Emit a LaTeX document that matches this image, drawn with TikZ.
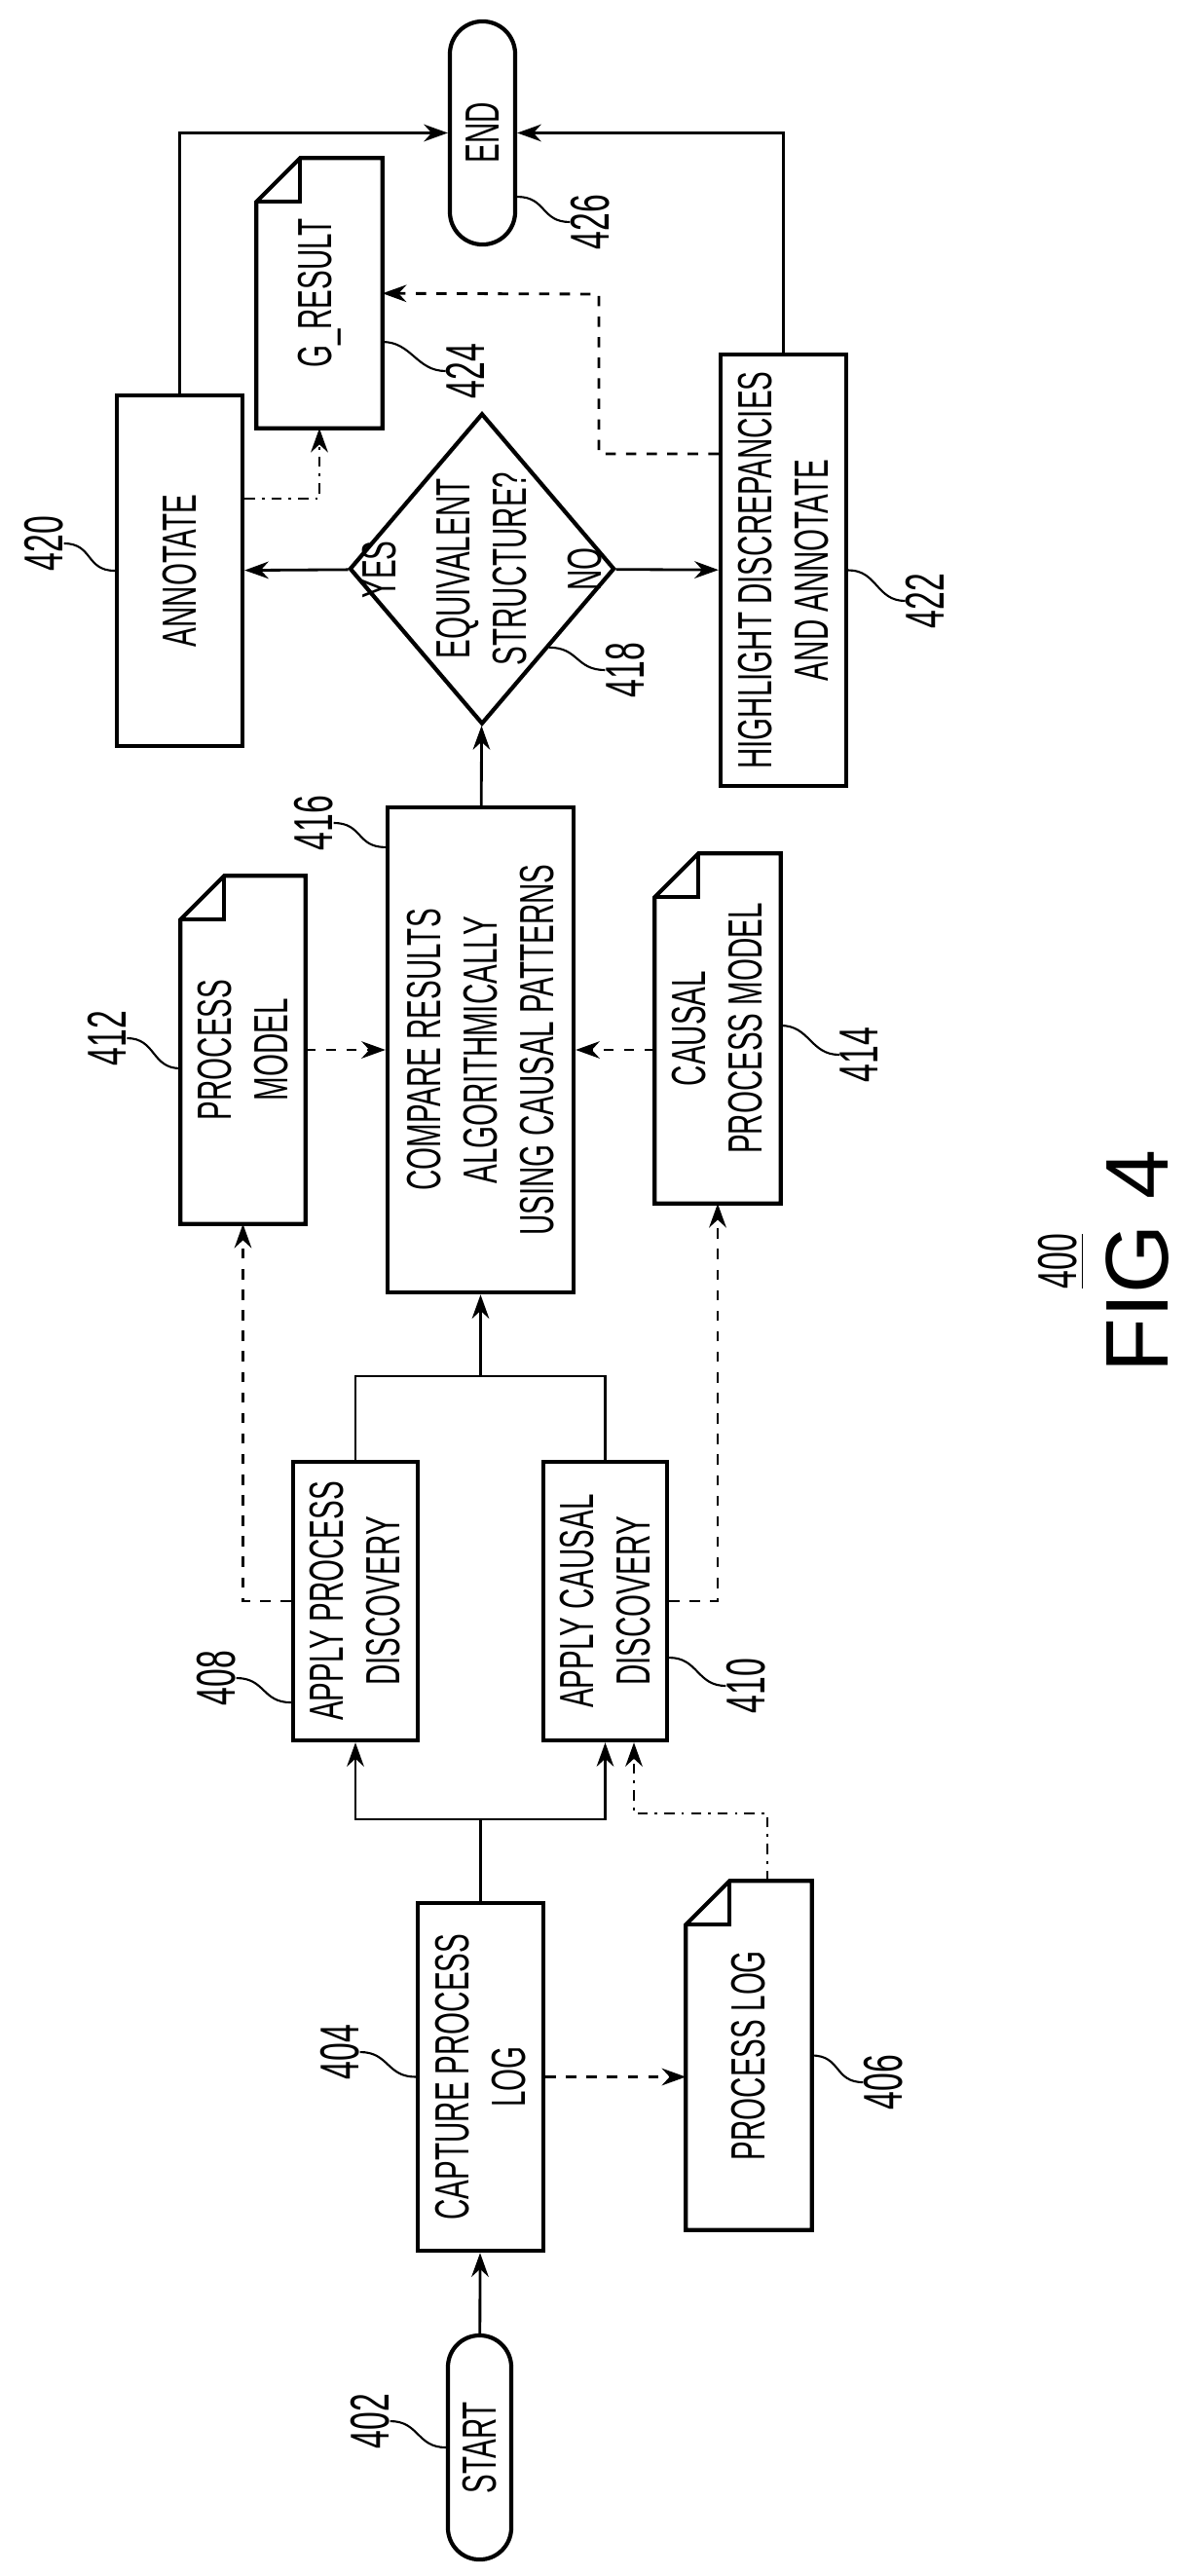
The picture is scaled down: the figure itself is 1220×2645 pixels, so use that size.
\documentclass[tikz,border=0pt]{standalone}
\usepackage{fontspec}
\setmainfont{Liberation Sans}[FakeStretch=0.6]
\newfontfamily\figfont{Liberation Sans}
\usetikzlibrary{arrows.meta,shapes.geometric,shapes.misc}
\newcommand\boxfont{\fontsize{14}{16.5}\selectfont}
\newcommand\refnum{\fontsize{16}{18}\selectfont}
% folded-corner outline around a (rotated) document node
\newcommand\docshape[1]{%
  \draw[line width=1.2pt] ([yshift=-0.45cm]#1.north east) -- ([xshift=0.45cm]#1.north east)
    -- (#1.south east) -- (#1.south west) -- (#1.north west) -- cycle;
  \draw[line width=1.2pt] ([xshift=0.45cm]#1.north east) |- ([yshift=-0.45cm]#1.north east);}
\tikzset{
  box/.style={draw,line width=1.2pt,rotate=90,align=center,inner sep=0pt,font=\boxfont},
  doc/.style={rotate=90,align=center,inner sep=0pt,font=\boxfont},
  term/.style={box,rounded rectangle},
  num/.style={rotate=90,font=\refnum,inner sep=0pt},
  arr/.style={line width=0.8pt,-{Stealth[length=7pt,width=5pt]}},
  darr/.style={arr,dashed},
  ddarr/.style={arr,dash dot},
  lead/.style={line width=0.6pt}
}
\begin{document}
\begin{tikzpicture}[x=0.01cm,y=-0.01cm]
  \useasboundingbox (0,0) rectangle (1220,2645);
  % Terminals and steps
  \node[term,minimum width=2.30cm,minimum height=0.65cm] (start) at (492.5,2513) {START};
  \node[box,minimum width=3.57cm,minimum height=1.29cm] (cap) at (493.5,2132.5) {CAPTURE PROCESS\\LOG};
  \node[doc,minimum width=3.57cm,minimum height=1.28cm] (log) at (769,2110.5) {PROCESS LOG};
  \docshape{log}
  \node[box,minimum width=2.86cm,minimum height=1.28cm] (apd) at (365,1644) {APPLY PROCESS\\DISCOVERY};
  \node[box,minimum width=2.86cm,minimum height=1.27cm] (acd) at (621.5,1644) {APPLY CAUSAL\\DISCOVERY};
  \node[doc,minimum width=3.56cm,minimum height=1.27cm] (pm) at (249.5,1078) {PROCESS\\MODEL};
  \docshape{pm}
  \node[doc,minimum width=3.58cm,minimum height=1.28cm] (cpm) at (737,1056) {CAUSAL\\PROCESS MODEL};
  \docshape{cpm}
  \node[box,minimum width=4.98cm,minimum height=1.91cm] (cmp) at (493.5,1078)
    {COMPARE RESULTS\\ALGORITHMICALLY\\USING CAUSAL PATTERNS};
  \node[box,diamond,aspect=1.17,minimum width=3.19cm,minimum height=2.72cm] (eq) at (495,584)
    {EQUIVALENT\\STRUCTURE?};
  \node[box,minimum width=3.60cm,minimum height=1.29cm] (ann) at (184.5,586) {ANNOTATE};
  \node[box,minimum width=4.43cm,minimum height=1.29cm] (hl) at (804.5,585.5)
    {HIGHLIGHT DISCREPANCIES\\AND ANNOTATE};
  \node[doc,minimum width=2.76cm,minimum height=1.28cm] (gres) at (328,301) {G\_RESULT};
  \docshape{gres}
  \node[term,minimum width=2.29cm,minimum height=0.67cm] (end) at (495.5,136.5) {END};
  % Bend points
  \coordinate (split) at (493.5,1868);
  \coordinate (join) at (493.5,1413);
  \coordinate (lk) at (651,1862);
  \coordinate (gk) at (615,302);
  % Connectors
  \draw[arr] (start) -- (cap);
  \draw[darr] (cap) -- (cap -| log.north);
  \draw[line width=0.8pt] (cap.east) -- (split);
  \draw[arr] (split) -| (apd);
  \draw[arr] (split) -| (acd);
  \draw[ddarr] ([xshift=0.19cm]log.east) |- (lk) -- (lk |- acd.west);
  \draw[line width=0.8pt] (apd.east) |- (join) -| (acd.east);
  \draw[arr] (join) -- (cmp);
  \draw[darr] (apd.north) -| (pm.west);
  \draw[darr] (acd.south) -| (cpm.west);
  \draw[darr] (pm) -- (cmp);
  \draw[darr] (cmp -| cpm.north) -- (cmp);
  \draw[arr] (cmp) -- (eq);
  \draw[arr] (eq) -- node[num,pos=0.3,below=0.45cm,font=\boxfont] (yes) {YES} (ann);
  \draw[arr] (eq) -- node[num,pos=0.3,above=0.45cm,font=\boxfont] (no) {NO} (hl);
  \draw[ddarr] ([yshift=0.74cm]ann.south) -| (gres.west);
  \draw[darr] ([yshift=1.195cm]hl.north) -| (gk) -- (gres);
  \draw[arr] (ann.east) |- (end);
  \draw[arr] (hl.east) |- (end);
  % Reference numerals
  \node[num] (l402) at (380,2486) {402};
  \node[num] (l404) at (349,2107) {404};
  \node[num] (l406) at (907,2138) {406};
  \node[num] (l408) at (222,1723) {408};
  \node[num] (l410) at (766,1731) {410};
  \node[num] (l412) at (110,1066) {412};
  \node[num] (l414) at (882,1083) {414};
  \node[num] (l416) at (322,845) {416};
  \node[num] (l418) at (642,688) {418};
  \node[num] (l420) at (45,558) {420};
  \node[num] (l422) at (950,617) {422};
  \node[num] (l424) at (478,381) {424};
  \node[num] (l426) at (606,228) {426};
  \draw[lead] (start.north) .. controls +(-30,0) and +(30,0) .. (l402.south);
  \draw[lead] (cap.north) .. controls +(-30,0) and +(30,0) .. (l404.south);
  \draw[lead] (log.south) .. controls +(30,0) and +(-30,0) .. (l406.north);
  \draw[lead] ([yshift=-1.04cm]apd.north) .. controls +(-30,0) and +(30,0) .. (l408.south);
  \draw[lead] ([yshift=-0.58cm]acd.south) .. controls +(30,0) and +(-30,0) .. (l410.north);
  \draw[lead] ([yshift=-0.19cm]pm.north) .. controls +(-30,0) and +(30,0) .. (l412.south);
  \draw[lead] ([yshift=0.03cm]cpm.south) .. controls +(30,0) and +(-30,0) .. (l414.north);
  \draw[lead] ([yshift=2.08cm]cmp.north) .. controls +(-30,0) and +(30,0) .. (l416.south);
  \draw[lead] (eq.south west) .. controls +(30,0) and +(-30,0) .. (l418.north);
  \draw[lead] (ann.north) .. controls +(-30,0) and +(30,0) .. (l420.south);
  \draw[lead] (hl.south) .. controls +(30,0) and +(-30,0) .. (l422.north);
  \draw[lead] ([yshift=-0.5cm]gres.south) .. controls +(30,0) and +(-30,0) .. (l424.north);
  \draw[lead] ([yshift=-0.655cm]end.south) .. controls +(30,0) and +(-30,0) .. (l426.north);
  % Figure caption
  \node[num] (fignum) at (1090,1295) {\underline{400}};
  \node[rotate=90,font=\figfont\fontsize{26}{28}\selectfont] (figcap) at (1168,1295) {FIG 4};
\end{tikzpicture}
\end{document}
